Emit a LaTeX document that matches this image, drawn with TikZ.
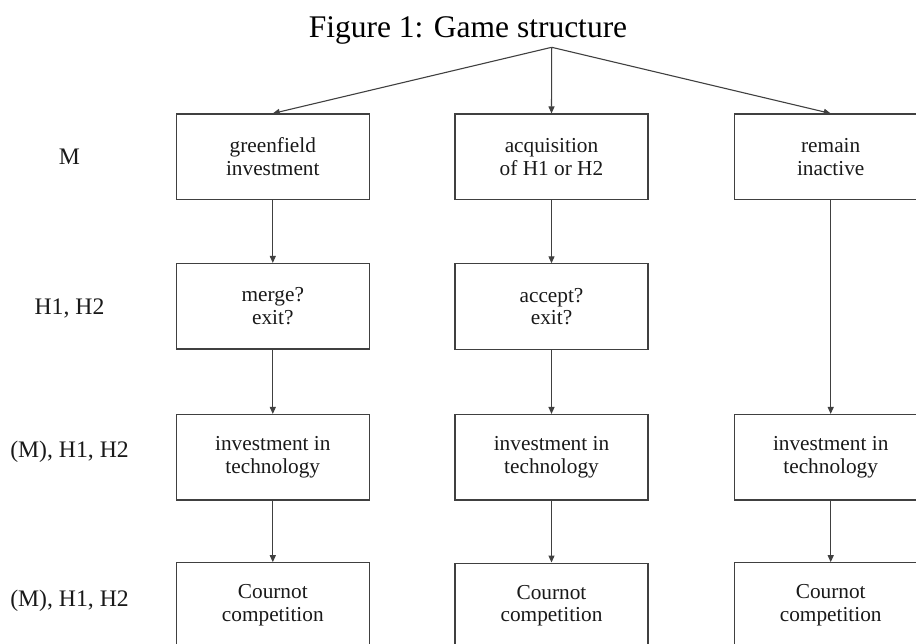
\documentclass[tikz,border=0pt]{standalone}
\usepackage{fontspec}
\setmainfont{Liberation Serif}
\usetikzlibrary{arrows.meta}
\newcommand\stagefont{\fontsize{21.3}{22.8}\selectfont}
\newcommand\rolefont{\fontsize{23.7}{28}\selectfont}
\newcommand\titlefont{\fontsize{31.5}{36}\selectfont}
\begin{document}
\begin{tikzpicture}[x=1pt,y=-1pt,
  stage/.style={draw=black!75, line width=1.1pt, rectangle,
    minimum width=193pt, minimum height=85.5pt, inner sep=0pt,
    align=center, font=\stagefont, text=black!90},
  role/.style={anchor=base, font=\rolefont, inner sep=0pt, text=black!90},
  link/.style={draw=black!75, line width=1.1pt,
    -{Triangle[length=7pt,width=6pt]}}]

\useasboundingbox (0,0) rectangle (916,644);

% title
\node[anchor=base, font=\titlefont, inner sep=0pt] (title) at (468,38)
  {Figure 1: Game structure};

% players moving at each stage
\node[role] (r1) at (69.5,165) {M};
\node[role] (r2) at (69.5,315) {H1, H2};
\node[role] (r3) at (69.5,457) {(M), H1, H2};
\node[role] (r4) at (69.5,606) {(M), H1, H2};

% root of the tree
\coordinate (root) at (551.7,47.3);

% stage 1: entry mode of M
\node[stage] (g1) at (272.8,156.75) {greenfield\\investment};
\node[stage] (a1) at (551.5,156.75) {acquisition\\of H1 or H2};
\node[stage] (i1) at (830.7,156.75) {remain\\inactive};

% stage 2: reaction of H1, H2
\node[stage] (g2) at (272.8,306.25) {merge?\\exit?};
\node[stage] (a2) at (551.5,306.6) {accept?\\exit?};

% stage 3: technology investment
\node[stage] (g3) at (272.8,457.25) {investment in\\technology};
\node[stage] (a3) at (551.5,457.25) {investment in\\technology};
\node[stage] (i3) at (830.7,457.25) {investment in\\technology};

% stage 4: product market
\node[stage] (g4) at (272.8,605.5) {Cournot\\competition};
\node[stage] (a4) at (551.5,605.8) {Cournot\\competition};
\node[stage] (i4) at (830.7,605.5) {Cournot\\competition};

% connectors
\draw[link] (root) -- (g1.north);
\draw[link] (root) -- (a1.north);
\draw[link] (root) -- (i1.north);

\draw[link] (g1.south) -- (g2.north);
\draw[link] (g2.south) -- (g3.north);
\draw[link] (g3.south) -- (g4.north);

\draw[link] (a1.south) -- (a2.north);
\draw[link] (a2.south) -- (a3.north);
\draw[link] (a3.south) -- (a4.north);

\draw[link] (i1.south) -- (i3.north);
\draw[link] (i3.south) -- (i4.north);
\end{tikzpicture}
\end{document}
